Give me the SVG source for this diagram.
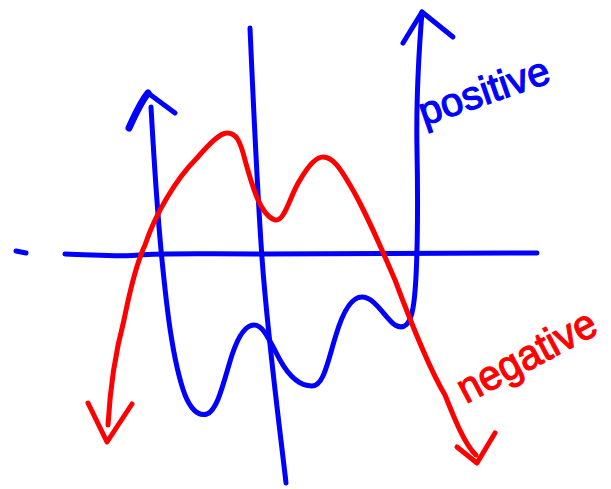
<svg xmlns="http://www.w3.org/2000/svg" width="611" height="489" viewBox="0 0 611 489">
<style>
.b{fill:none;stroke:#0000FF;stroke-width:5;stroke-linecap:round;stroke-linejoin:round}
.r{fill:none;stroke:#FF0000;stroke-width:5;stroke-linecap:round;stroke-linejoin:round}
.t{font-family:"Liberation Sans",Arial,sans-serif;stroke-width:1.2}
</style>
<rect width="611" height="489" fill="#fff"/>
<g id="axes">
<path class="b" d="M16,251 L26,253"/>
<path class="b" d="M65,254 C100,255 120,257 140,255 C160,253 200,254 262,254 C300,253 400,254 537,253"/>
<path class="b" d="M250,28 C254,120 258,200 262,258 C268,340 280,430 286,483"/>
</g>
<g id="blue-curve">
<path class="b" d="M151,107 C154,160 158,220 162,260 C166,300 172,360 185,395 C192,412 200,416 207,414 C218,410 224,380 232,355 C238,337 245,325 254,325 C264,325 270,342 280,360 C290,378 300,386 312,386 C324,386 328,360 336,335 C342,315 350,297 362,297 C375,297 385,318 395,325 C404,330 410,325 413,308 C418,280 418,200 417,150 C416,100 419,50 422,12"/>
<path class="b" d="M148,93 L175,113"/>
<path class="b" style="stroke-width:7" d="M129,128 C135,115 140,103 148,93"/>
<path class="b" d="M403,43 L422,12 L453,37"/>
</g>
<g id="red-curve">
<path class="r" d="M108,425 C110,390 116,350 124,320 C130,290 138,260 145,245 C155,215 175,180 197,158 C210,143 220,133 227,133 C236,133 240,140 245,160 C252,185 260,215 275,220 C285,222 290,195 300,180 C307,168 315,157 323,157 C333,157 340,168 350,185 C365,210 380,245 395,280 C410,320 430,370 445,395 C455,420 465,445 476,455"/>
<path class="r" d="M88,403 L107,442 L132,404"/>
<path class="r" d="M457,447 L477,463 L495,433"/>
</g>
<g id="label-positive">
<text class="t" transform="translate(424,126) rotate(-19)" font-size="40" fill="#0000FF" stroke="#0000FF" textLength="136" lengthAdjust="spacingAndGlyphs">positive</text>
</g>
<g id="label-negative">
<text class="t" transform="translate(466,404) rotate(-28)" font-size="42" fill="#FF0000" stroke="#FF0000" textLength="152" lengthAdjust="spacingAndGlyphs">negative</text>
</g>
</svg>
